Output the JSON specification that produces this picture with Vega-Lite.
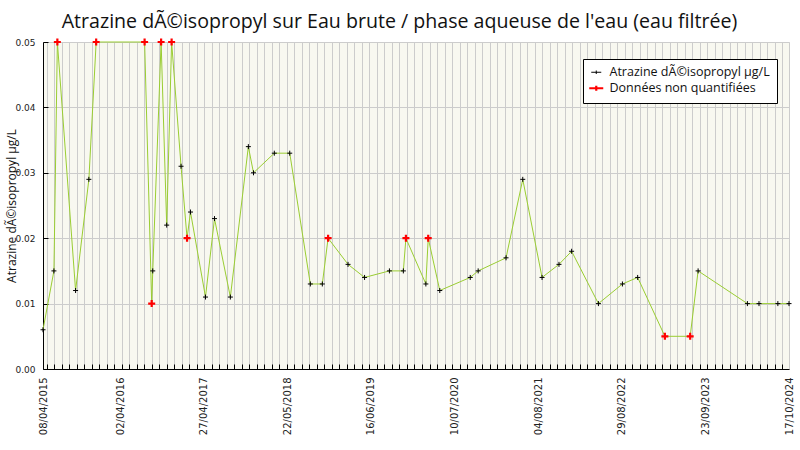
{
  "$schema": "https://vega.github.io/schema/vega-lite/v6.json",
  "autosize": {"type": "none"},
  "width": 746,
  "height": 327,
  "padding": {"left": 43, "top": 42, "right": 11, "bottom": 81},
  "background": "white",
  "title": {
    "text": "Atrazine dÃ©isopropyl sur Eau brute / phase aqueuse de l'eau (eau filtrée)",
    "font": "Open Sans",
    "fontSize": 19.6,
    "fontWeight": "normal",
    "color": "#111111",
    "anchor": "middle",
    "frame": "bounds",
    "offset": 2
  },
  "data": {
    "values": [
      {"date": "2015-04-08", "v": 0.006, "statut": "mesure"},
      {"date": "2015-05-29", "v": 0.015, "statut": "mesure"},
      {"date": "2015-06-14", "v": 0.05, "statut": "nq"},
      {"date": "2015-09-07", "v": 0.012, "statut": "mesure"},
      {"date": "2015-11-08", "v": 0.029, "statut": "mesure"},
      {"date": "2015-12-12", "v": 0.05, "statut": "nq"},
      {"date": "2016-07-25", "v": 0.05, "statut": "nq"},
      {"date": "2016-08-27", "v": 0.01, "statut": "nq"},
      {"date": "2016-09-01", "v": 0.015, "statut": "mesure"},
      {"date": "2016-10-10", "v": 0.05, "statut": "nq"},
      {"date": "2016-11-05", "v": 0.022, "statut": "mesure"},
      {"date": "2016-11-28", "v": 0.05, "statut": "nq"},
      {"date": "2017-01-11", "v": 0.031, "statut": "mesure"},
      {"date": "2017-02-08", "v": 0.02, "statut": "nq"},
      {"date": "2017-02-24", "v": 0.024, "statut": "mesure"},
      {"date": "2017-05-05", "v": 0.011, "statut": "mesure"},
      {"date": "2017-06-16", "v": 0.023, "statut": "mesure"},
      {"date": "2017-08-29", "v": 0.011, "statut": "mesure"},
      {"date": "2017-11-21", "v": 0.034, "statut": "mesure"},
      {"date": "2017-12-15", "v": 0.03, "statut": "mesure"},
      {"date": "2018-03-22", "v": 0.033, "statut": "mesure"},
      {"date": "2018-06-02", "v": 0.033, "statut": "mesure"},
      {"date": "2018-09-06", "v": 0.013, "statut": "mesure"},
      {"date": "2018-11-01", "v": 0.013, "statut": "mesure"},
      {"date": "2018-11-28", "v": 0.02, "statut": "nq"},
      {"date": "2019-03-01", "v": 0.016, "statut": "mesure"},
      {"date": "2019-05-17", "v": 0.014, "statut": "mesure"},
      {"date": "2019-09-10", "v": 0.015, "statut": "mesure"},
      {"date": "2019-11-14", "v": 0.015, "statut": "mesure"},
      {"date": "2019-11-26", "v": 0.02, "statut": "nq"},
      {"date": "2020-02-27", "v": 0.013, "statut": "mesure"},
      {"date": "2020-03-09", "v": 0.02, "statut": "nq"},
      {"date": "2020-05-02", "v": 0.012, "statut": "mesure"},
      {"date": "2020-09-21", "v": 0.014, "statut": "mesure"},
      {"date": "2020-10-28", "v": 0.015, "statut": "mesure"},
      {"date": "2021-03-07", "v": 0.017, "statut": "mesure"},
      {"date": "2021-05-24", "v": 0.029, "statut": "mesure"},
      {"date": "2021-08-22", "v": 0.014, "statut": "mesure"},
      {"date": "2021-11-09", "v": 0.016, "statut": "mesure"},
      {"date": "2022-01-07", "v": 0.018, "statut": "mesure"},
      {"date": "2022-05-12", "v": 0.01, "statut": "mesure"},
      {"date": "2022-09-01", "v": 0.013, "statut": "mesure"},
      {"date": "2022-11-11", "v": 0.014, "statut": "mesure"},
      {"date": "2023-03-18", "v": 0.005, "statut": "nq"},
      {"date": "2023-07-14", "v": 0.005, "statut": "nq"},
      {"date": "2023-08-20", "v": 0.015, "statut": "mesure"},
      {"date": "2024-04-06", "v": 0.01, "statut": "mesure"},
      {"date": "2024-05-30", "v": 0.01, "statut": "mesure"},
      {"date": "2024-08-26", "v": 0.01, "statut": "mesure"},
      {"date": "2024-10-17", "v": 0.01, "statut": "mesure"}
    ]
  },
  "layer": [
    {
      "mark": {"type": "line", "color": "#9acd32", "strokeWidth": 1},
      "encoding": {
        "x": {
          "field": "date",
          "type": "temporal",
          "scale": {
            "type": "utc",
            "nice": false,
            "domain": [
              {"year": 2015, "month": 4, "date": 8, "utc": true},
              {"year": 2024, "month": 10, "date": 17, "utc": true}
            ]
          },
          "axis": {
            "orient": "bottom",
            "title": null,
            "grid": true,
            "tickCount": {"interval": "week", "step": 5},
            "labels": false,
            "ticks": true,
            "tickSize": -5,
            "tickColor": "black",
            "domainColor": "black"
          }
        },
        "y": {
          "field": "v",
          "type": "quantitative",
          "scale": {"domain": [0, 0.05], "nice": false},
          "axis": {
            "title": "Atrazine dÃ©isopropyl µg/L",
            "titleFont": "Open Sans",
            "titleFontSize": 12,
            "titleFontWeight": "normal",
            "titleColor": "#111111",
            "titleX": -25,
            "values": [0, 0.0025, 0.005, 0.0075, 0.01, 0.0125, 0.015, 0.0175, 0.02, 0.0225, 0.025, 0.0275, 0.03, 0.0325, 0.035, 0.0375, 0.04, 0.0425, 0.045, 0.0475, 0.05],
            "labelExpr": "abs(datum.value * 100 - round(datum.value * 100)) < 0.000001 ? format(datum.value, '.2f') : ''",
            "gridOpacity": {
              "condition": {"test": "abs(datum.value * 100 - round(datum.value * 100)) < 0.000001", "value": 1},
              "value": 0
            },
            "tickSize": -5,
            "tickColor": "black",
            "domainColor": "black",
            "labelPadding": 13,
            "labelFontSize": 9,
            "labelColor": "#222222"
          }
        }
      }
    },
    {
      "mark": {"type": "point", "filled": false, "shape": "M-1,0H1M0,-1V1", "opacity": 1},
      "encoding": {
        "x": {
          "field": "date",
          "type": "temporal",
          "axis": {
            "orient": "bottom",
            "title": null,
            "grid": false,
            "ticks": false,
            "domain": false,
            "values": [
              {"year": 2015, "month": 4, "date": 8, "utc": true},
              {"year": 2016, "month": 4, "date": 2, "utc": true},
              {"year": 2017, "month": 4, "date": 27, "utc": true},
              {"year": 2018, "month": 5, "date": 22, "utc": true},
              {"year": 2019, "month": 6, "date": 16, "utc": true},
              {"year": 2020, "month": 7, "date": 10, "utc": true},
              {"year": 2021, "month": 8, "date": 4, "utc": true},
              {"year": 2022, "month": 8, "date": 29, "utc": true},
              {"year": 2023, "month": 9, "date": 23, "utc": true},
              {"year": 2024, "month": 10, "date": 17, "utc": true}
            ],
            "format": "%d/%m/%Y",
            "labelAngle": -90,
            "labelFontSize": 10,
            "labelColor": "#222222",
            "labelPadding": 8,
            "labelOverlap": false,
            "labelBound": false,
            "labelFlush": false
          }
        },
        "y": {"field": "v", "type": "quantitative"},
        "color": {
          "field": "statut",
          "type": "nominal",
          "scale": {"domain": ["mesure", "nq"], "range": ["black", "red"]},
          "legend": {
            "title": null,
            "orient": "none",
            "legendX": 540,
            "legendY": 17,
            "fillColor": "white",
            "strokeColor": "black",
            "padding": 7,
            "labelExpr": "datum.value == 'nq' ? 'Données non quantifiées' : 'Atrazine dÃ©isopropyl µg/L'",
            "labelFont": "Open Sans",
            "labelFontSize": 12.5,
            "labelLimit": 400,
            "labelColor": "#111111",
            "labelOffset": 7,
            "symbolType": "M-2,0H2M0,-0.7V0.7",
            "symbolSize": 36,
            "symbolStrokeWidth": 1.5,
            "rowPadding": 2
          }
        },
        "size": {
          "field": "statut",
          "type": "ordinal",
          "scale": {"domain": ["mesure", "nq"], "range": [25, 49]},
          "legend": null
        },
        "strokeWidth": {
          "field": "statut",
          "type": "ordinal",
          "scale": {"domain": ["mesure", "nq"], "range": [1, 2.2]},
          "legend": null
        }
      }
    }
  ],
  "resolve": {"axis": {"x": "independent"}},
  "config": {
    "view": {"fill": "#f8f8f0", "stroke": "#cccccc"},
    "axis": {"gridColor": "#cccccc", "gridWidth": 1, "labelFont": "DejaVu Sans"}
  }
}
